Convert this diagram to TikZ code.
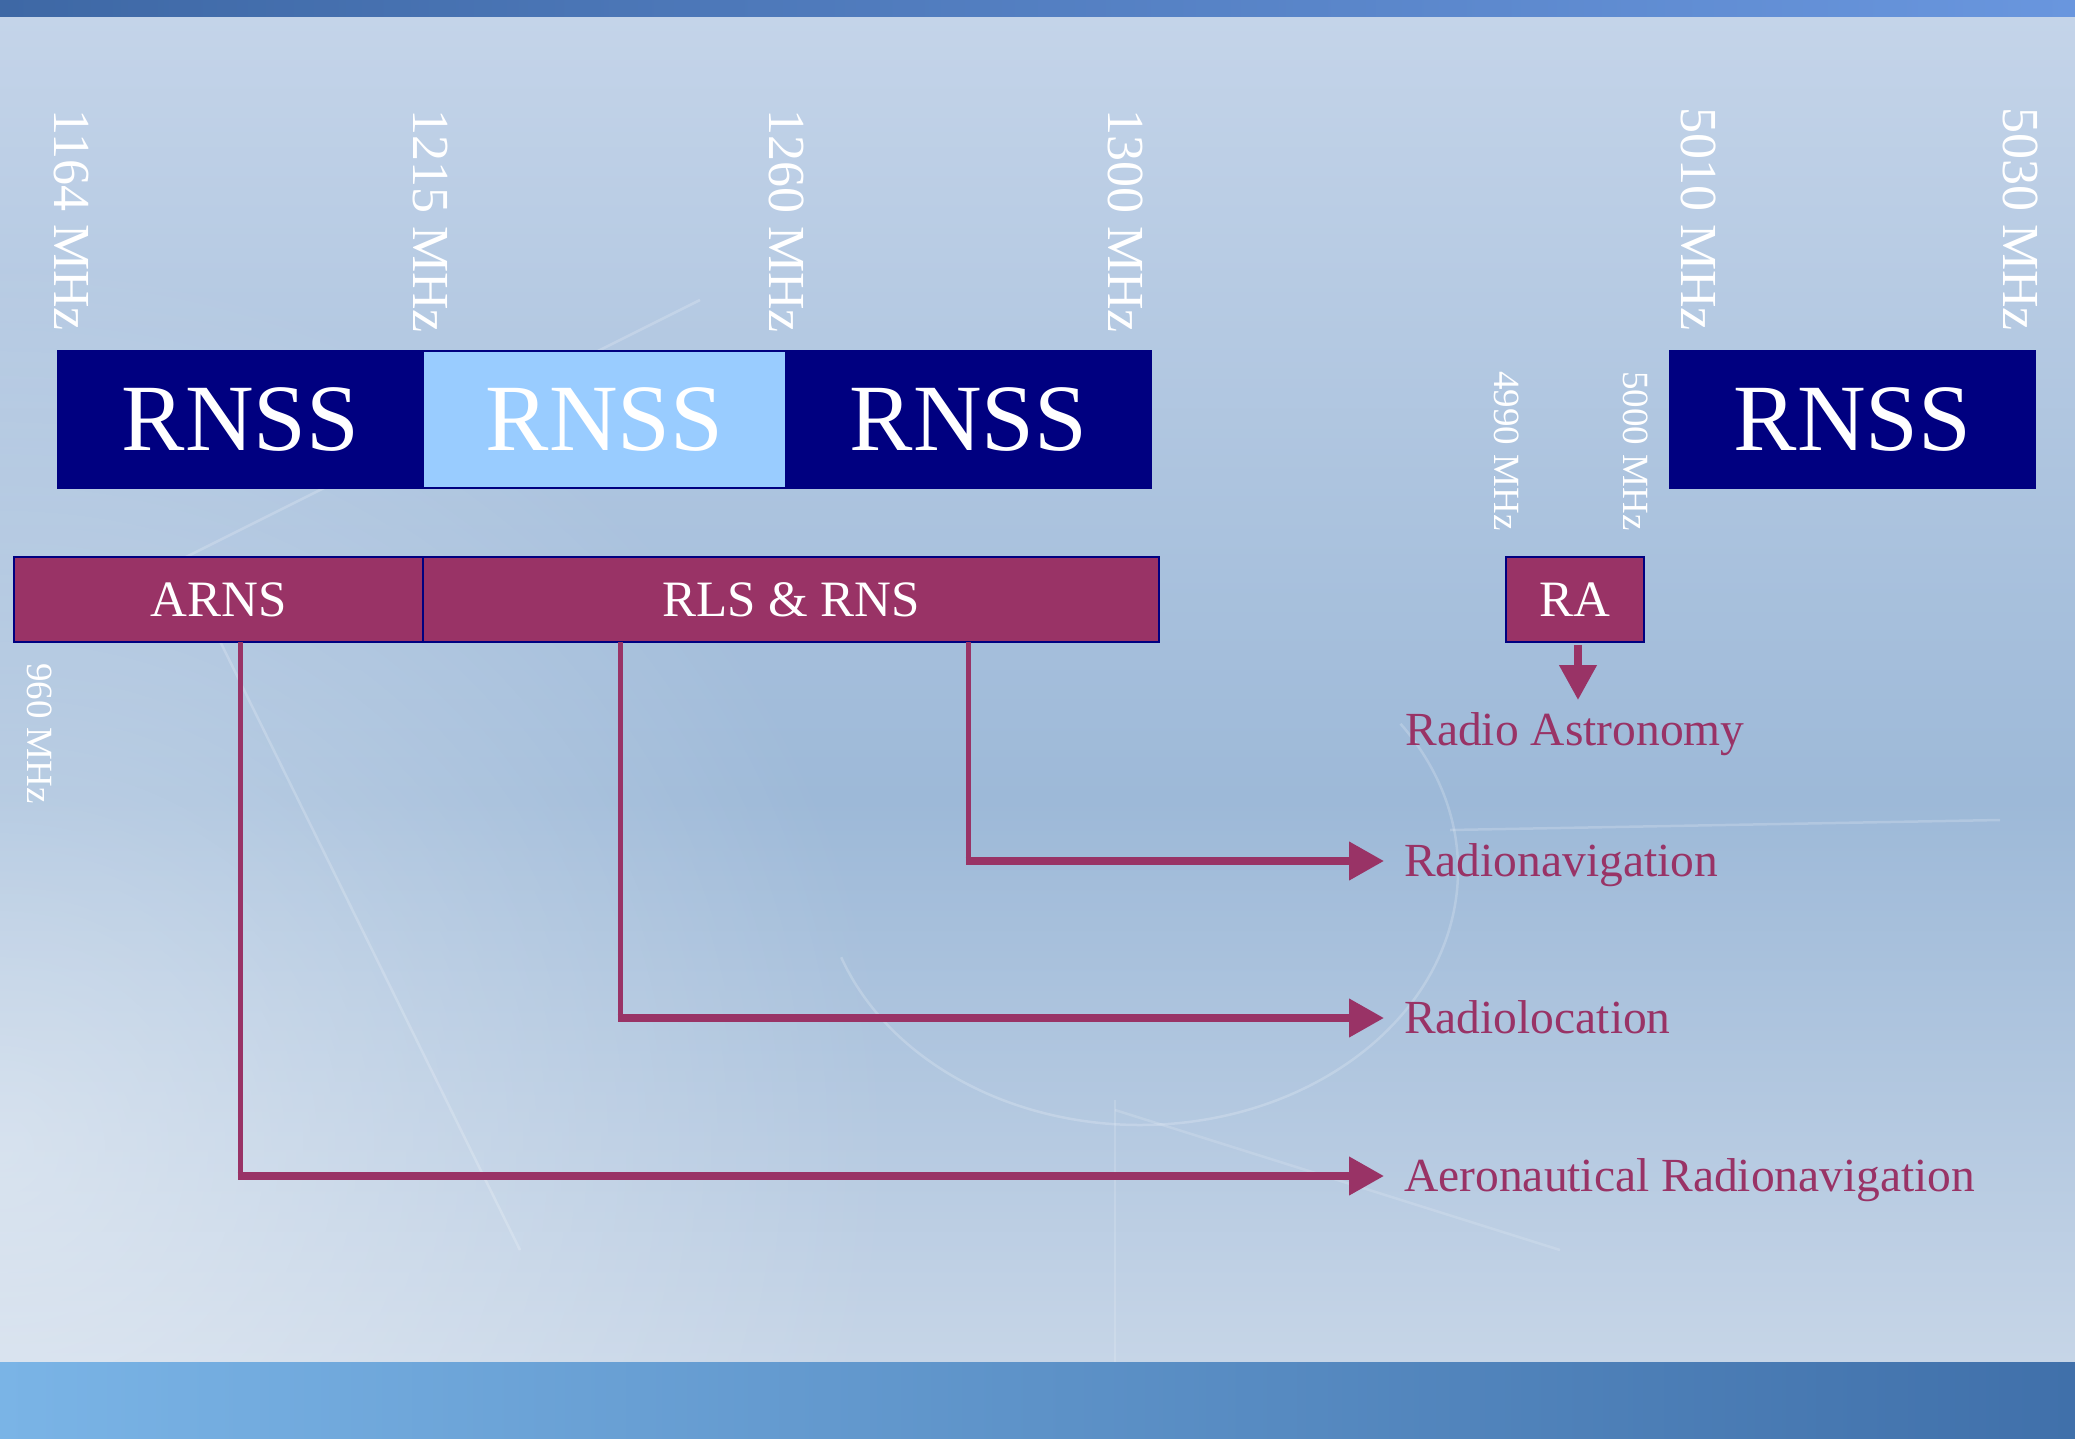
\documentclass[tikz,border=0pt]{standalone}
\usepackage{fontspec}
\setmainfont{Liberation Serif}
\usetikzlibrary{arrows.meta,fadings}
\definecolor{navy}{HTML}{000080}
\definecolor{lblue}{HTML}{99CCFF}
\definecolor{maroon}{HTML}{993366}
\definecolor{bgtop}{HTML}{C4D4E9}
\definecolor{bgmid}{HTML}{9DB9D8}
\definecolor{bglow}{HTML}{C6D5E7}
\tikzfading[name=softglow, inner color=transparent!0, outer color=transparent!100]
\begin{document}
\begin{tikzpicture}[x=1pt,y=-1pt,
  bandbox/.style={draw=navy,line width=1.5pt,inner sep=0pt,outer sep=0pt,anchor=north west,
    text=white,minimum height=137pt,font=\fontsize{95}{100}\selectfont},
  svcbox/.style={draw=navy,line width=1.8pt,fill=maroon,inner sep=0pt,outer sep=0pt,anchor=north west,
    text=white,minimum height=85pt,font=\fontsize{51}{56}\selectfont},
  freqbig/.style={rotate=-90,anchor=west,inner sep=0pt,text=white,font=\fontsize{52}{56}\selectfont},
  freqsmall/.style={rotate=-90,anchor=west,inner sep=0pt,text=white,font=\fontsize{37}{40}\selectfont},
  usage/.style={inner sep=0pt,text=maroon,text height=31pt,text depth=0pt,font=\fontsize{47.5}{52}\selectfont},
  vline/.style={draw=maroon,line width=5pt},
  harrow/.style={draw=maroon,line width=7.5pt,-{Triangle[length=35pt,width=37pt]}},
  varrow/.style={draw=maroon,line width=7.5pt,-{Triangle[length=35pt,width=36pt]}},
  deco/.style={white,opacity=0.2,line width=2.5pt}
]
\useasboundingbox (0,0) rectangle (2075,1438);
% background
\shade[top color=bgtop,bottom color=bgmid] (0,16) rectangle (2075,800);
\shade[top color=bgmid,bottom color=bglow] (0,800) rectangle (2075,1362);
\begin{scope}
\clip (0,16) rectangle (2075,1362);
\fill[white,opacity=0.45,path fading=softglow] (0,1150) circle[radius=900];
\end{scope}
\shade[left color={rgb,255:red,62;green,104;blue,165},right color={rgb,255:red,105;green,150;blue,222}] (0,0) rectangle (2075,16);
\shade[left color={rgb,255:red,122;green,180;blue,230},right color={rgb,255:red,64;green,112;blue,170}] (0,1362) rectangle (2075,1438);
% faint decorative drawing
\draw[deco] (1140,870) ++(-35:318 and 255) arc[start angle=-35,end angle=160,x radius=318,y radius=255];
\draw[deco] (180,560) -- (520,1250);
\draw[deco] (180,560) -- (700,300);
\draw[deco] (1450,830) -- (2000,820);
\draw[deco,opacity=0.15] (1115,1110) -- (1560,1250);
\draw[deco,opacity=0.15] (1115,1100) -- (1115,1362);

% top RNSS bands
\node[bandbox,fill=navy,minimum width=365pt] (r1) at (58,351) {RNSS};
\node[bandbox,fill=lblue,minimum width=363pt] (r2) at (423,351) {RNSS};
\node[bandbox,fill=navy,minimum width=365pt] (r3) at (786,351) {RNSS};
\node[bandbox,fill=navy,minimum width=365pt] (r4) at (1670,351) {RNSS};

% frequency labels
\node[freqbig] (f1164) at (71,109) {1164 MHz};
\node[freqbig] (f1215) at (430,109) {1215 MHz};
\node[freqbig] (f1260) at (787,109) {1260 MHz};
\node[freqbig] (f1300) at (1126,109) {1300 MHz};
\node[freqbig] (f5010) at (1699,107) {5010 MHz};
\node[freqbig] (f5030) at (2021,107) {5030 MHz};
\node[freqsmall] (f4990) at (1507,371) {4990 MHz};
\node[freqsmall] (f5000) at (1636,371) {5000 MHz};
\node[freqsmall] (f960) at (40,663) {960 MHz};

% service bands
\node[svcbox,minimum width=409pt] (arns) at (14,557) {ARNS};
\node[svcbox,minimum width=736pt] (rls) at (423,557) {RLS \& RNS};
\node[svcbox,minimum width=138pt] (ra) at (1506,557) {RA};

% usage labels
\node[usage,anchor=north] (astro) at (1575,714) {Radio Astronomy};
\node[usage,anchor=west] (rnav) at (1404,861) {Radionavigation};
\node[usage,anchor=west] (rloc) at (1404,1018) {Radiolocation};
\node[usage,anchor=west] (aero) at (1404,1176) {Aeronautical Radionavigation};

% connectors
\coordinate (k1) at (240,1176);
\coordinate (k2) at (620,1018);
\coordinate (k3) at (968,861);
\draw[vline] (arns.south -| k1) -- ([yshift=-3.75pt]k1);
\draw[vline] (rls.south -| k2) -- ([yshift=-3.75pt]k2);
\draw[vline] (rls.south -| k3) -- ([yshift=-3.75pt]k3);
\draw[harrow] ([xshift=-2.5pt]k1) -- ([xshift=-20pt]aero.west);
\draw[harrow] ([xshift=-2.5pt]k2) -- ([xshift=-20pt]rloc.west);
\draw[harrow] ([xshift=-2.5pt]k3) -- ([xshift=-20pt]rnav.west);
\draw[varrow] ([xshift=3pt,yshift=-3pt]ra.south) -- ([xshift=3pt,yshift=14pt]astro.north);
\end{tikzpicture}
\end{document}
